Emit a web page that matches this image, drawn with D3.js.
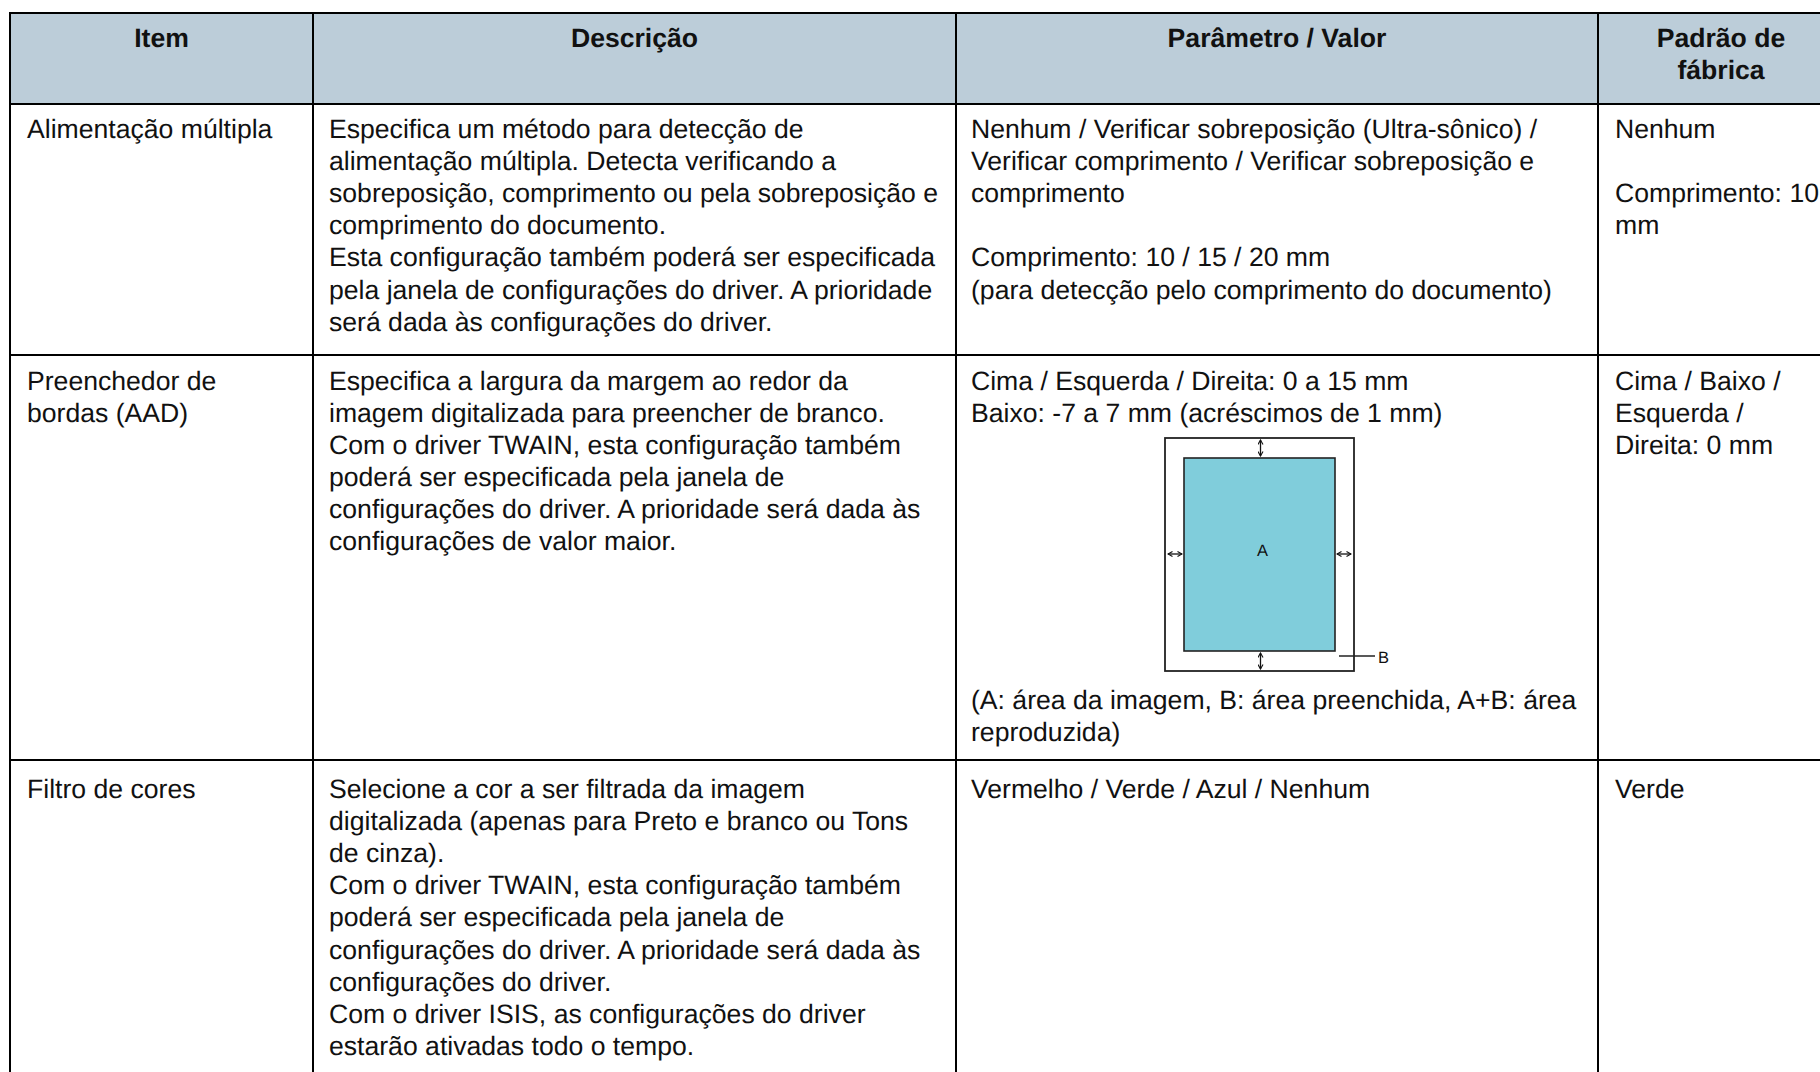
<!DOCTYPE html>
<html>
<head>
<meta charset="utf-8">
<script src="https://cdn.jsdelivr.net/npm/d3@7"></script>
<style>
  html, body { margin: 0; padding: 0; background: #fff; overflow: hidden; }
</style>
</head>
<body>
<div id="chart"></div>
<script>
const headers = [['Item'], ['Descrição'], ['Parâmetro / Valor'], ['Padrão de', 'fábrica']];

const itemColumn = [
  ['Alimentação múltipla'],
  ['Preenchedor de', 'bordas (AAD)'],
  ['Filtro de cores']
];

const descriptionColumn = [
  ['Especifica um método para detecção de',
   'alimentação múltipla. Detecta verificando a',
   'sobreposição, comprimento ou pela sobreposição e',
   'comprimento do documento.',
   'Esta configuração também poderá ser especificada',
   'pela janela de configurações do driver. A prioridade',
   'será dada às configurações do driver.'],
  ['Especifica a largura da margem ao redor da',
   'imagem digitalizada para preencher de branco.',
   'Com o driver TWAIN, esta configuração também',
   'poderá ser especificada pela janela de',
   'configurações do driver. A prioridade será dada às',
   'configurações de valor maior.'],
  ['Selecione a cor a ser filtrada da imagem',
   'digitalizada (apenas para Preto e branco ou Tons',
   'de cinza).',
   'Com o driver TWAIN, esta configuração também',
   'poderá ser especificada pela janela de',
   'configurações do driver. A prioridade será dada às',
   'configurações do driver.',
   'Com o driver ISIS, as configurações do driver',
   'estarão ativadas todo o tempo.']
];

const valueColumn = [
  ['Nenhum / Verificar sobreposição (Ultra-sônico) /',
   'Verificar comprimento / Verificar sobreposição e',
   'comprimento',
   '',
   'Comprimento: 10 / 15 / 20 mm',
   '(para detecção pelo comprimento do documento)'],
  ['Cima / Esquerda / Direita: 0 a 15 mm',
   'Baixo: -7 a 7 mm (acréscimos de 1 mm)'],
  ['Vermelho / Verde / Azul / Nenhum']
];

const valueFootnote = ['(A: área da imagem, B: área preenchida, A+B: área', 'reproduzida)'];

const defaultColumn = [
  ['Nenhum', '', 'Comprimento: 10', 'mm'],
  ['Cima / Baixo /', 'Esquerda /', 'Direita: 0 mm'],
  ['Verde']
];

const columns = [itemColumn, descriptionColumn, valueColumn, defaultColumn];

// layout
const width = 1820, height = 1072;
const colEdges = [10, 313, 956, 1598, 1844];
const textX = [27, 329, 971, 1615];
const rowEdges = [104, 355, 760, 1090];
const rowBaselines = [138, 389.5, 798];
const headerTop = 13;
const lineHeight = 32.1;
const fontFamily = '"Liberation Sans", Arial, Helvetica, sans-serif';
const fontSize = 26.6;
const textColor = '#111';

const svg = d3.select('#chart')
  .append('svg')
    .attr('width', width)
    .attr('height', height)
    .style('display', 'block')
    .style('font-family', fontFamily)
    .style('font-size', fontSize + 'px')
    .style('text-rendering', 'geometricPrecision');

svg.append('rect')
  .attr('x', colEdges[0])
  .attr('y', headerTop)
  .attr('width', colEdges[4] - colEdges[0])
  .attr('height', rowEdges[0] - headerTop)
  .attr('fill', '#bccdd9');

// header text
svg.append('g').selectAll('g')
  .data(headers)
  .enter()
  .append('g')
  .each(function(lines, c) {
    d3.select(this).selectAll('text')
      .data(lines)
      .enter()
      .append('text')
        .attr('x', (colEdges[c] + colEdges[c + 1]) / 2)
        .attr('y', (d, i) => 47 + i * lineHeight)
        .attr('text-anchor', 'middle')
        .attr('font-weight', 'bold')
        .attr('fill', '#111')
        .text(d => d);
  });

// body cells
columns.forEach((col, c) => {
  col.forEach((lines, r) => {
    svg.append('g').selectAll('text')
      .data(lines)
      .enter()
      .append('text')
        .attr('x', textX[c])
        .attr('y', (d, i) => rowBaselines[r] + i * lineHeight)
        .attr('fill', textColor)
        .text(d => d);
  });
});

// text below the small diagram
svg.append('g').selectAll('text')
  .data(valueFootnote)
  .enter()
  .append('text')
    .attr('x', textX[2])
    .attr('y', (d, i) => 709 + i * lineHeight)
    .attr('fill', textColor)
    .text(d => d);

// grid lines
const grid = svg.append('g').attr('stroke', '#000').attr('stroke-width', 2);
grid.selectAll('.v')
  .data(colEdges.slice(0, 4))
  .enter()
  .append('line')
    .attr('class', 'v')
    .attr('x1', d => d).attr('x2', d => d)
    .attr('y1', headerTop - 1).attr('y2', height);
grid.selectAll('.h')
  .data([headerTop, rowEdges[0], rowEdges[1], rowEdges[2]])
  .enter()
  .append('line')
    .attr('class', 'h')
    .attr('x1', colEdges[0] - 1).attr('x2', width)
    .attr('y1', d => d).attr('y2', d => d);

// diagram
const outer = { x0: 1165, x1: 1354, y0: 438, y1: 671 };
const inner = { x0: 1184, x1: 1335, y0: 458, y1: 651 };
const diagram = svg.append('g');

svg.append('defs').append('marker')
  .attr('id', 'head')
  .attr('viewBox', '0 0 6 6')
  .attr('refX', 5).attr('refY', 3)
  .attr('markerWidth', 6).attr('markerHeight', 6)
  .attr('markerUnits', 'userSpaceOnUse')
  .attr('orient', 'auto-start-reverse')
  .append('path')
    .attr('d', 'M0.5,0.5L5,3L0.5,5.5')
    .attr('fill', 'none')
    .attr('stroke', '#111')
    .attr('stroke-width', 1.1);

diagram.append('rect')
  .attr('x', outer.x0).attr('y', outer.y0)
  .attr('width', outer.x1 - outer.x0).attr('height', outer.y1 - outer.y0)
  .attr('fill', '#fff').attr('stroke', '#222').attr('stroke-width', 1.8);
diagram.append('rect')
  .attr('x', inner.x0).attr('y', inner.y0)
  .attr('width', inner.x1 - inner.x0).attr('height', inner.y1 - inner.y0)
  .attr('fill', '#80cddb').attr('stroke', '#222').attr('stroke-width', 1.6);

const midX = 1260.5, midY = 554;
const arrows = [
  [midX, outer.y0 + 2, midX, inner.y0 - 2],
  [midX, inner.y1 + 2, midX, outer.y1 - 2],
  [outer.x0 + 3, midY, inner.x0 - 2, midY],
  [inner.x1 + 2, midY, outer.x1 - 3, midY]
];
diagram.selectAll('.arrow')
  .data(arrows)
  .enter()
  .append('line')
    .attr('class', 'arrow')
    .attr('x1', d => d[0]).attr('y1', d => d[1])
    .attr('x2', d => d[2]).attr('y2', d => d[3])
    .attr('stroke', '#111').attr('stroke-width', 1.3)
    .attr('marker-start', 'url(#head)')
    .attr('marker-end', 'url(#head)');

diagram.append('line')
  .attr('x1', 1339).attr('x2', 1375)
  .attr('y1', 656).attr('y2', 656)
  .attr('stroke', '#222').attr('stroke-width', 1.3);

diagram.append('text')
  .attr('x', 1262.5).attr('y', 556)
  .attr('text-anchor', 'middle')
  .attr('font-size', 16.5)
  .attr('fill', '#111')
  .text('A');
diagram.append('text')
  .attr('x', 1378).attr('y', 663)
  .attr('font-size', 16.5)
  .attr('fill', '#111')
  .text('B');
</script>
</body>
</html>
